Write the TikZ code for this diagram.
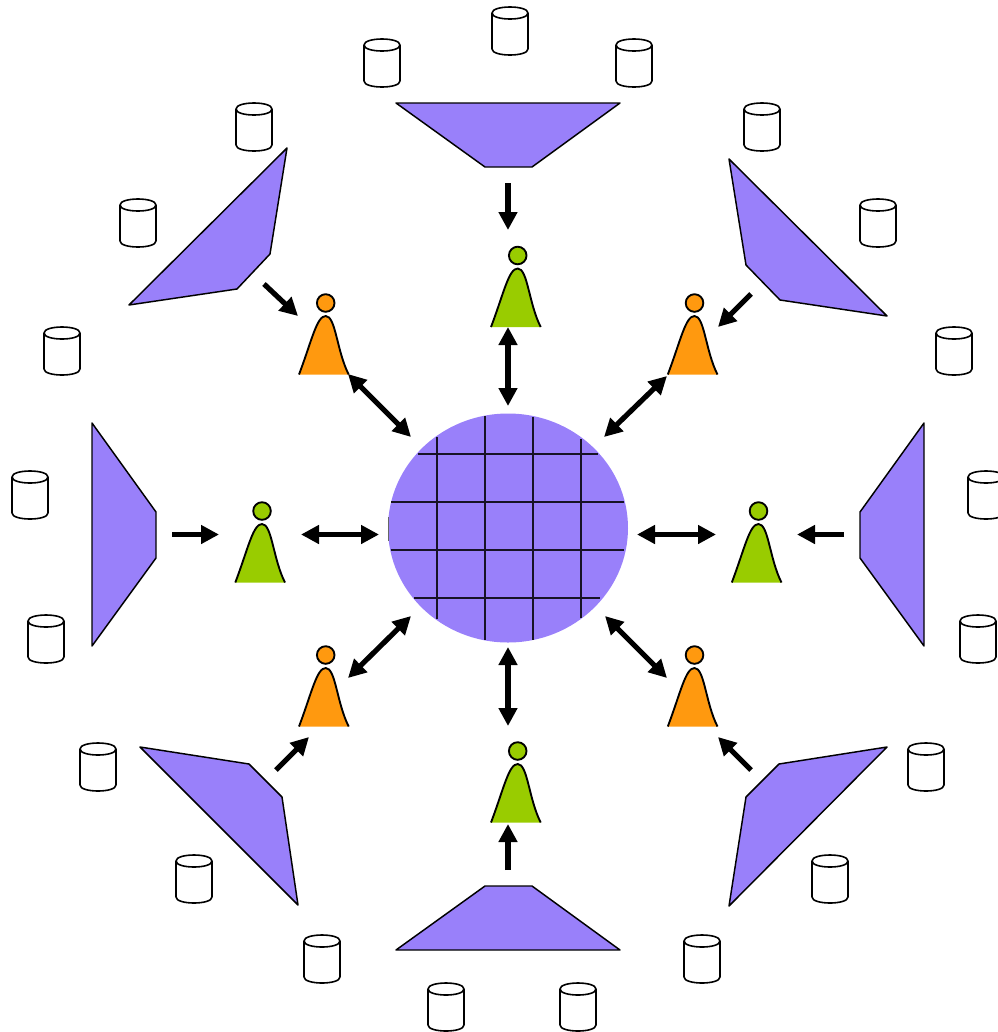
\documentclass[tikz,border=0pt]{standalone}
\usetikzlibrary{arrows.meta}
\definecolor{hubpurple}{HTML}{9980FA}
\definecolor{persongreen}{HTML}{99CC00}
\definecolor{personorange}{HTML}{FF990F}
\tikzset{
  thin line/.style={line width=1.2pt,line join=round},
  source/.style={line width=1.1pt,line join=round,draw=black,fill=hubpurple},
  flow/.style={line width=3.9pt,-{Triangle[length=13.5pt,width=13.5pt]},black},
  dflow/.style={line width=3.9pt,{Triangle[length=13.5pt,width=13.5pt]}-{Triangle[length=13.5pt,width=13.5pt]},black},
  gridline/.style={line width=0.85pt,draw=black!85!hubpurple},
  db/.pic={
    \draw[thin line,fill=white] (0,6) -- (0,42) .. controls (0,50) and (36,50) .. (36,42) -- (36,6)
      .. controls (36,-2) and (0,-2) .. (0,6) -- cycle;
    \draw[thin line] (0,6) .. controls (0,14) and (36,14) .. (36,6);
  },
  person/.pic={
    \fill[fill=\pgfkeysvalueof{/tikz/personfill}] (-26.7,71.5) .. controls (-14,38) and (-9,13) .. (0,13)
      .. controls (10,13) and (11,48) .. (23,71.5) -- cycle;
    \draw[line width=1.4pt,line join=round] (-26.7,71.5) .. controls (-14,38) and (-9,13) .. (0,13)
      .. controls (10,13) and (11,48) .. (23,71.5);
    \draw[line width=1.4pt,fill=\pgfkeysvalueof{/tikz/personfill}] (0,0) circle [radius=8.8];
  },
  personfill/.initial=persongreen
}
\begin{document}
\begin{tikzpicture}[x=0.75pt,y=-0.75pt]
\useasboundingbox (0,0) rectangle (998,1032);

% hub
\fill[hubpurple] (508,528) ellipse [x radius=120,y radius=114.5];
\node[inner sep=0pt] (hub) at (508,528) {};
\draw[gridline] (437,437) -- (437,619) (485,416) -- (485,640) (533,417) -- (533,640) (581,439) -- (581,618);
\draw[line width=0.6pt,draw=black!60] (388.3,517) -- (388.3,541);
\draw[gridline] (418,454) -- (598,454) (391,502) -- (624,502) (391,550) -- (624,550) (414,598) -- (600,598);

% sources
\draw[source] (396,103) -- (620,103) -- (532,167) -- (485,167) -- cycle;
\draw[source] (396,950) -- (620,950) -- (532,886) -- (485,886) -- cycle;
\draw[source] (92,423) -- (156,512) -- (156,558) -- (92,646) -- cycle;
\draw[source] (924,423) -- (860,512) -- (860,558) -- (924,646) -- cycle;
\draw[source] (287,148) -- (270,254) -- (237,289) -- (129,305) -- cycle;
\draw[source] (729,159) -- (746,265) -- (780,300) -- (887,316) -- cycle;
\draw[source] (140,747) -- (249,764) -- (282,797) -- (298,905) -- cycle;
\draw[source] (887,747) -- (779,764) -- (746,797) -- (729,906) -- cycle;

% databases
\foreach \i/\p in {1/{492,7},2/{364,39},3/{616,39},4/{236,103},5/{744,103},6/{120,199},7/{860,199},8/{44,327},9/{936,327},10/{12,471},11/{968,471},12/{28,615},13/{960,615},14/{80,743},15/{908,743},16/{176,855},17/{812,855},18/{304,935},19/{684,935},20/{428,983},21/{560,983}}
  \pic (db\i) at (\p) {db};

% people
\pic[personfill=persongreen] (pT) at (517.7,255.5) {person};
\pic[personfill=persongreen] (pB) at (517.7,751) {person};
\pic[personfill=persongreen] (pL) at (262,511) {person};
\pic[personfill=persongreen] (pR) at (758.5,511) {person};
\pic[personfill=personorange] (pTL) at (325.7,303) {person};
\pic[personfill=personorange] (pTR) at (694.5,303) {person};
\pic[personfill=personorange] (pBL) at (325.7,655) {person};
\pic[personfill=personorange] (pBR) at (694.5,655) {person};

% connector ends
\coordinate (sT) at (508,183);   \coordinate (iT) at (508,230);
\coordinate (oT) at (508,327);   \coordinate (hT) at (508,406);
\coordinate (sB) at (508,870);   \coordinate (iB) at (508,824);
\coordinate (oB) at (508,726);   \coordinate (hB) at (508,647);
\coordinate (sL) at (172,534.5); \coordinate (iL) at (219,534.5);
\coordinate (oL) at (301,534.5); \coordinate (hL) at (379,534.5);
\coordinate (sR) at (844,534.5); \coordinate (iR) at (797,534.5);
\coordinate (oR) at (716,534.5); \coordinate (hR) at (637,534.5);
\coordinate (sTL) at (264,284);  \coordinate (iTL) at (298,316);
\coordinate (oTL) at (348,374);  \coordinate (hTL) at (411,437);
\coordinate (sTR) at (751,294);  \coordinate (iTR) at (718,327);
\coordinate (oTR) at (667,376);  \coordinate (hTR) at (604,437);
\coordinate (sBL) at (276,770);  \coordinate (iBL) at (309,737);
\coordinate (oBL) at (348,678);  \coordinate (hBL) at (411,616);
\coordinate (sBR) at (751,770);  \coordinate (iBR) at (718,737);
\coordinate (oBR) at (667,678);  \coordinate (hBR) at (605,616);

\foreach \k in {T,B,L,R,TL,TR,BL,BR}{
  \draw[flow] (s\k) -- (i\k);
  \draw[dflow] (o\k) -- (h\k);
}
\end{tikzpicture}
\end{document}
